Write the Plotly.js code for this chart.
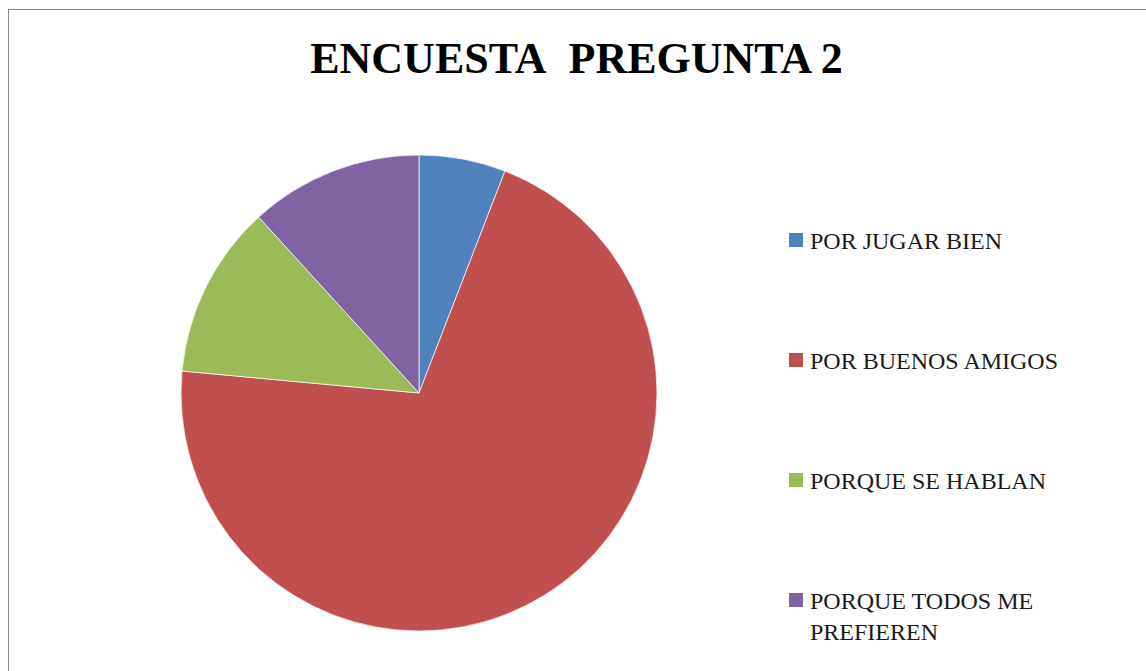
<!DOCTYPE html>
<html>
<head>
<meta charset="utf-8">
<script src="https://cdn.plot.ly/plotly-3.0.1.min.js"></script>
<style>
  html, body { margin: 0; padding: 0; background: #fff; overflow: hidden; }
  #wrap { position: relative; width: 1146px; height: 671px; }
  #chart { position: absolute; left: 0; top: 0; width: 1146px; height: 671px; }
  #frame { position: absolute; left: 8px; top: 9px; width: 1200px; height: 700px;
           border: 1px solid #888; pointer-events: none; box-sizing: border-box; }
</style>
</head>
<body>
<div id="wrap">
  <div id="chart"></div>
  <div id="frame"></div>
</div>
<script>
const titleText = "ENCUESTA&nbsp; PREGUNTA 2";
const labels = ["POR JUGAR BIEN", "POR BUENOS AMIGOS", "PORQUE SE HABLAN", "PORQUE TODOS ME<br>PREFIEREN"];
const values = [1, 12, 2, 2];
const colors = ["#4F81BD", "#C0504D", "#9BBB59", "#8064A2"];

const W = 1146, H = 671;
const cx = 419, cy = 393, r = 238;
const legendX = 789, legendTop = 240, legendGap = 120, sq = 14;

const shapes = [];
const annotations = [];
labels.forEach((lab, i) => {
  const yc = legendTop + i * legendGap;
  shapes.push({
    type: "rect", xref: "paper", yref: "paper",
    x0: legendX / W, x1: (legendX + sq) / W,
    y0: 1 - (yc + sq / 2) / H, y1: 1 - (yc - sq / 2) / H,
    fillcolor: colors[i], line: { width: 0 }
  });
  annotations.push({
    xref: "paper", yref: "paper",
    x: (legendX + sq + 5) / W, y: 1 - (yc - 14) / H,
    xanchor: "left", yanchor: "top", align: "left",
    text: lab, showarrow: false,
    font: { family: "Liberation Serif, serif", size: 24, color: "#1a1a1a" }
  });
});

const data = [{
  type: "pie",
  labels: labels,
  values: values,
  sort: false,
  direction: "clockwise",
  rotation: 0,
  textinfo: "none",
  hoverinfo: "label+value+percent",
  marker: { colors: colors, line: { color: "rgba(255,255,255,0.7)", width: 1 } },
  domain: { x: [(cx - r) / W, (cx + r) / W], y: [1 - (cy + r) / H, 1 - (cy - r) / H] },
  showlegend: false
}];

const layout = {
  width: W, height: H,
  margin: { l: 0, r: 0, t: 0, b: 0 },
  paper_bgcolor: "#fff",
  title: {
    text: "<b>" + titleText + "</b>",
    x: 576.5 / W, xanchor: "center",
    y: 1 - 58 / H, yanchor: "middle", yref: "container",
    font: { family: "Liberation Serif, serif", size: 44, color: "#000" }
  },
  shapes: shapes,
  annotations: annotations,
  showlegend: false
};

Plotly.newPlot("chart", data, layout, { displayModeBar: false, staticPlot: false });
</script>
</body>
</html>
